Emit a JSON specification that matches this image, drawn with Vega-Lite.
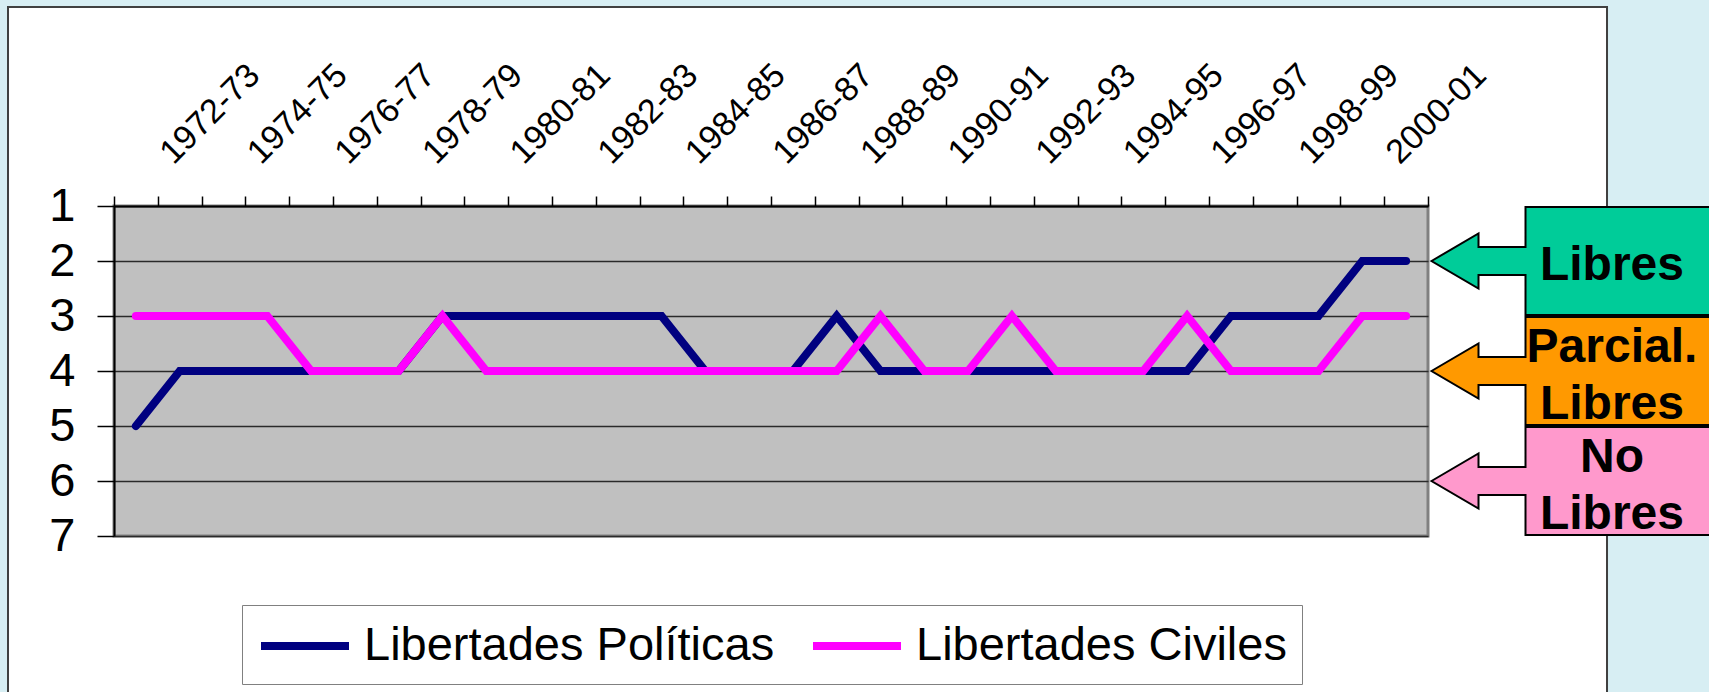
{
  "$schema": "https://vega.github.io/schema/vega-lite/v6.json",
  "width": 1314,
  "height": 330,
  "autosize": {"type": "none"},
  "padding": {"left": 114, "top": 206, "right": 281, "bottom": 156},
  "background": "white",
  "config": {
    "view": {"fill": "#C0C0C0", "stroke": "#808080", "strokeWidth": 3},
    "font": "Liberation Sans",
    "axis": {"labelFont": "Liberation Sans", "labelColor": "black"},
    "legend": {"labelFont": "Liberation Sans", "labelColor": "black"}
  },
  "datasets": {
    "serie": [
      {"periodo": "1972-73", "politicas": 5, "civiles": 3},
      {"periodo": "1973-74", "politicas": 4, "civiles": 3},
      {"periodo": "1974-75", "politicas": 4, "civiles": 3},
      {"periodo": "1975-76", "politicas": 4, "civiles": 3},
      {"periodo": "1976-77", "politicas": 4, "civiles": 4},
      {"periodo": "1977-78", "politicas": 4, "civiles": 4},
      {"periodo": "1978-79", "politicas": 4, "civiles": 4},
      {"periodo": "1979-80", "politicas": 3, "civiles": 3},
      {"periodo": "1980-81", "politicas": 3, "civiles": 4},
      {"periodo": "1981-82", "politicas": 3, "civiles": 4},
      {"periodo": "1982-83", "politicas": 3, "civiles": 4},
      {"periodo": "1983-84", "politicas": 3, "civiles": 4},
      {"periodo": "1984-85", "politicas": 3, "civiles": 4},
      {"periodo": "1985-86", "politicas": 4, "civiles": 4},
      {"periodo": "1986-87", "politicas": 4, "civiles": 4},
      {"periodo": "1987-88", "politicas": 4, "civiles": 4},
      {"periodo": "1988-89", "politicas": 3, "civiles": 4},
      {"periodo": "1989-90", "politicas": 4, "civiles": 3},
      {"periodo": "1990-91", "politicas": 4, "civiles": 4},
      {"periodo": "1991-92", "politicas": 4, "civiles": 4},
      {"periodo": "1992-93", "politicas": 4, "civiles": 3},
      {"periodo": "1993-94", "politicas": 4, "civiles": 4},
      {"periodo": "1994-95", "politicas": 4, "civiles": 4},
      {"periodo": "1995-96", "politicas": 4, "civiles": 4},
      {"periodo": "1996-97", "politicas": 4, "civiles": 3},
      {"periodo": "1997-98", "politicas": 3, "civiles": 4},
      {"periodo": "1998-99", "politicas": 3, "civiles": 4},
      {"periodo": "1999-00", "politicas": 3, "civiles": 4},
      {"periodo": "2000-01", "politicas": 2, "civiles": 3},
      {"periodo": "2001-02", "politicas": 2, "civiles": 3}
    ],
    "estados": [
      {"nivel": 2, "estado": "Libres"},
      {"nivel": 4, "estado": "Parcial.\nLibres"},
      {"nivel": 6, "estado": "No\nLibres"}
    ]
  },
  "resolve": {"scale": {"x": "independent"}},
  "layer": [
    {
      "data": {"name": "serie"},
      "layer": [
        {
          "mark": {"type": "line", "strokeWidth": 8, "strokeCap": "round", "strokeJoin": "miter"},
          "encoding": {
            "x": {
              "field": "periodo", "type": "ordinal", "sort": null,
              "scale": {"type": "point", "padding": 0.5},
              "axis": {
                "orient": "top",
                "values": ["1972-73", "1974-75", "1976-77", "1978-79", "1980-81", "1982-83", "1984-85", "1986-87", "1988-89", "1990-91", "1992-93", "1994-95", "1996-97", "1998-99", "2000-01"],
                "ticks": false, "tickSize": 0, "domain": false, "grid": false,
                "labelAngle": -45, "labelAlign": "left", "labelBaseline": "alphabetic",
                "labelOffset": 37, "labelPadding": 41, "labelFontSize": 34,
                "labelOverlap": false, "labelBound": false, "labelFlush": false,
                "title": null
              }
            },
            "y": {
              "field": "politicas", "type": "quantitative",
              "scale": {"domain": [1, 7], "reverse": true, "nice": false, "zero": false},
              "axis": {
                "values": [1, 2, 3, 4, 5, 6, 7], "format": "d",
                "grid": true, "gridColor": "#2a2a2a", "gridWidth": 1.5,
                "tickSize": 17, "tickColor": "black", "tickWidth": 1.5,
                "domainColor": "black", "domainWidth": 2,
                "labelFontSize": 47, "labelPadding": 22, "labelOverlap": false,
                "title": null
              }
            },
            "color": {
              "datum": "Libertades Políticas",
              "scale": {"domain": ["Libertades Políticas", "Libertades Civiles"], "range": ["#000080", "#FF00FF"]},
              "legend": {
                "orient": "none", "legendX": 128, "legendY": 399,
                "direction": "horizontal", "title": null,
                "symbolType": "M-1,0H3", "symbolSize": 1936, "symbolStrokeWidth": 8,
                "labelFontSize": 47, "labelOffset": 55, "columnPadding": 22, "labelLimit": 1000,
                "padding": 15, "fillColor": "white", "strokeColor": "#808080"
              }
            }
          }
        },
        {
          "mark": {"type": "line", "strokeWidth": 8, "strokeCap": "round", "strokeJoin": "miter"},
          "encoding": {
            "x": {"field": "periodo", "type": "ordinal", "sort": null, "scale": {"type": "point", "padding": 0.5}},
            "y": {"field": "civiles", "type": "quantitative", "scale": {"domain": [1, 7], "reverse": true, "nice": false, "zero": false}},
            "color": {"datum": "Libertades Civiles"}
          }
        }
      ]
    },
    {
      "layer": [
        {
          "data": {"values": [{}]},
          "mark": {"type": "rect", "fill": "#D7EEF3"},
          "encoding": {
            "x": {
              "datum": -6, "type": "quantitative",
              "scale": {"domain": [0, 30], "nice": false, "zero": false},
              "axis": {
                "orient": "top",
                "values": [0, 1, 2, 3, 4, 5, 6, 7, 8, 9, 10, 11, 12, 13, 14, 15, 16, 17, 18, 19, 20, 21, 22, 23, 24, 25, 26, 27, 28, 29, 30],
                "labels": false, "grid": false,
                "tickSize": 10, "tickColor": "black", "tickWidth": 1.5,
                "domainColor": "black", "domainWidth": 2,
                "title": null
              }
            },
            "x2": {"datum": -2.42},
            "y": {"datum": -6, "type": "quantitative", "scale": {"domain": [1, 7], "reverse": true, "nice": false, "zero": false}},
            "y2": {"datum": 12}
          }
        },
        {
          "data": {"values": [{}]},
          "mark": {"type": "rect", "fill": "#D7EEF3"},
          "encoding": {
            "x": {"datum": -6, "type": "quantitative", "scale": {"domain": [0, 30], "nice": false, "zero": false}},
            "x2": {"datum": 40},
            "y": {"datum": -6, "type": "quantitative", "scale": {"domain": [1, 7], "reverse": true, "nice": false, "zero": false}},
            "y2": {"datum": -2.618}
          }
        },
        {
          "data": {"values": [{}]},
          "mark": {"type": "rect", "fill": "#D7EEF3"},
          "encoding": {
            "x": {"datum": 34.087, "type": "quantitative", "scale": {"domain": [0, 30], "nice": false, "zero": false}},
            "x2": {"datum": 40},
            "y": {"datum": -6, "type": "quantitative", "scale": {"domain": [1, 7], "reverse": true, "nice": false, "zero": false}},
            "y2": {"datum": 12}
          }
        },
        {
          "data": {"values": [{}]},
          "mark": {"type": "rect", "filled": false, "stroke": "#404040", "strokeWidth": 2},
          "encoding": {
            "x": {"datum": -2.42, "type": "quantitative", "scale": {"domain": [0, 30], "nice": false, "zero": false}},
            "x2": {"datum": 34.087},
            "y": {"datum": -2.618, "type": "quantitative", "scale": {"domain": [1, 7], "reverse": true, "nice": false, "zero": false}},
            "y2": {"datum": 12}
          }
        },
        {
          "data": {"name": "estados"},
          "mark": {
            "type": "point", "filled": true, "opacity": 1,
            "shape": "M0,0L0.47,-0.275L0.47,-0.14L0.94,-0.14L0.94,-0.54L3.2,-0.54L3.2,0.54L0.94,0.54L0.94,0.14L0.47,0.14L0.47,0.275Z",
            "size": 40000, "stroke": "black", "strokeWidth": 2, "strokeOpacity": 1, "fillOpacity": 1
          },
          "encoding": {
            "x": {"datum": 30.08, "type": "quantitative", "scale": {"domain": [0, 30], "nice": false, "zero": false}},
            "y": {"field": "nivel", "type": "quantitative", "scale": {"domain": [1, 7], "reverse": true, "nice": false, "zero": false}},
            "fill": {
              "field": "estado", "type": "nominal",
              "scale": {"domain": ["Libres", "Parcial.\nLibres", "No\nLibres"], "range": ["#00CC99", "#FF9900", "#FF99CC"]},
              "legend": null
            }
          }
        },
        {
          "data": {"name": "estados"},
          "transform": [{"filter": "datum.nivel == 2"}],
          "mark": {
            "type": "text", "font": "Liberation Sans", "fontSize": 48, "fontWeight": "bold",
            "align": "center", "baseline": "middle",
            "dy": 5, "color": "black"
          },
          "encoding": {
            "x": {"datum": 34.2, "type": "quantitative", "scale": {"domain": [0, 30], "nice": false, "zero": false}},
            "y": {"field": "nivel", "type": "quantitative", "scale": {"domain": [1, 7], "reverse": true, "nice": false, "zero": false}},
            "text": {"field": "estado"}
          }
        },
        {
          "data": {"name": "estados"},
          "transform": [{"filter": "datum.nivel != 2"}],
          "mark": {
            "type": "text", "font": "Liberation Sans", "fontSize": 48, "fontWeight": "bold",
            "align": "center", "baseline": "middle", "lineBreak": "\n", "lineHeight": 57,
            "dy": -23, "color": "black"
          },
          "encoding": {
            "x": {"datum": 34.2, "type": "quantitative", "scale": {"domain": [0, 30], "nice": false, "zero": false}},
            "y": {"field": "nivel", "type": "quantitative", "scale": {"domain": [1, 7], "reverse": true, "nice": false, "zero": false}},
            "text": {"field": "estado"}
          }
        }
      ]
    }
  ]
}
